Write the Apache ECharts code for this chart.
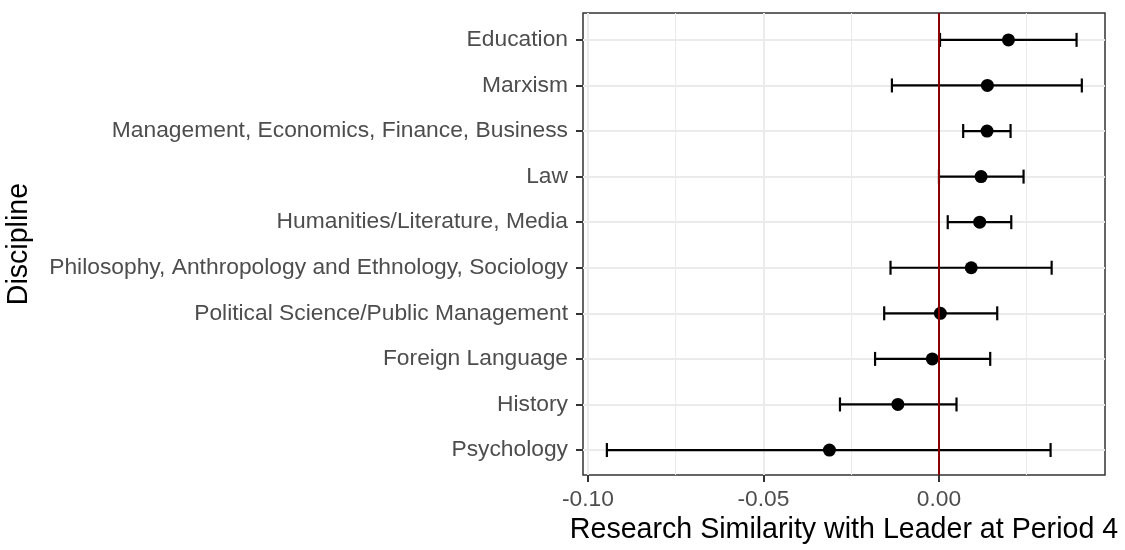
<!DOCTYPE html>
<html>
<head>
<meta charset="utf-8">
<title>Research Similarity with Leader at Period 4</title>
<script src="https://cdn.jsdelivr.net/npm/echarts@6.0.0/dist/echarts.min.js"></script>
<style>
  html, body { margin: 0; padding: 0; background: #ffffff; }
  #chart { width: 1125px; height: 550px; }
</style>
</head>
<body>
<div id="chart"></div>
<script>
// Disciplines, listed top to bottom
const categories = [
  'Education',
  'Marxism',
  'Management, Economics, Finance, Business',
  'Law',
  'Humanities/Literature, Media',
  'Philosophy, Anthropology and Ethnology, Sociology',
  'Political Science/Public Management',
  'Foreign Language',
  'History',
  'Psychology'
];

// Point estimates and confidence bounds
const estimate = [0.0198, 0.0138, 0.0137, 0.0120, 0.0116, 0.0092, 0.0004, -0.0019, -0.0117, -0.0312];
const lower    = [0.0003, -0.0134, 0.0069, 0.0000, 0.0025, -0.0138, -0.0156, -0.0182, -0.0282, -0.0946];
const upper    = [0.0392, 0.0407, 0.0204, 0.0241, 0.0206, 0.0321, 0.0166, 0.0146, 0.0050, 0.0318];

// Axis ticks
const xMajorTicks = [-0.10, -0.05, 0.00];
const xMinorTicks = [-0.075, -0.025, 0.025];
const xRange = [-0.1014, 0.0473];
const referenceLine = 0;

const rowIndex = categories.map((_, i) => i);

const FONT = '"Liberation Sans", Arial, Helvetica, sans-serif';
const GRID_LINE = '#EBEBEB';

const chart = echarts.init(document.getElementById('chart'), null, { renderer: 'canvas' });

const option = {
  backgroundColor: '#ffffff',
  animation: false,
  grid: {
    left: 583,
    right: 20,
    top: 13,
    bottom: 73,
    show: true,
    backgroundColor: 'transparent',
    borderColor: '#333333',
    borderWidth: 1.5,
    containLabel: false
  },
  xAxis: [
    {
      type: 'value',
      min: xRange[0],
      max: xRange[1],
      position: 'bottom',
      name: 'Research Similarity with Leader at Period 4',
      nameLocation: 'middle',
      nameGap: 39,
      nameTextStyle: { color: '#000000', fontSize: 28.6, fontFamily: FONT },
      axisLine: { show: false, onZero: false },
      axisTick: {
        show: true,
        length: 7,
        customValues: xMajorTicks,
        lineStyle: { color: '#333333', width: 2 }
      },
      axisLabel: {
        show: true,
        customValues: xMajorTicks,
        margin: 13,
        color: '#4D4D4D',
        fontSize: 22.8,
        fontFamily: FONT,
        formatter: v => v.toFixed(2)
      },
      splitLine: { show: true, lineStyle: { color: GRID_LINE, width: 2 } }
    },
    {
      // minor vertical gridlines
      type: 'value',
      min: xRange[0],
      max: xRange[1],
      position: 'top',
      axisLine: { show: false, onZero: false },
      axisTick: { show: false, customValues: xMinorTicks },
      axisLabel: { show: false, customValues: xMinorTicks },
      splitLine: { show: true, lineStyle: { color: GRID_LINE, width: 1 } }
    }
  ],
  yAxis: {
    type: 'value',
    inverse: true,
    min: -0.59,
    max: categories.length - 1 + 0.55,
    name: 'Discipline',
    nameLocation: 'middle',
    nameRotate: 90,
    nameGap: 549,
    nameTextStyle: { color: '#000000', fontSize: 28.6, fontFamily: FONT },
    axisLine: { show: false, onZero: false },
    axisTick: {
      show: true,
      length: 7,
      customValues: rowIndex,
      lineStyle: { color: '#333333', width: 2 }
    },
    axisLabel: {
      show: true,
      customValues: rowIndex,
      margin: 15,
      color: '#4D4D4D',
      fontSize: 22.8,
      fontFamily: FONT,
      formatter: v => categories[Math.round(v)]
    },
    splitLine: { show: true, lineStyle: { color: GRID_LINE, width: 2 } }
  },
  series: [
    {
      // vertical reference line at zero
      type: 'line',
      xAxisIndex: 0,
      data: [],
      z: 1,
      silent: true,
      markLine: {
        silent: true,
        symbol: ['none', 'none'],
        label: { show: false },
        lineStyle: { color: '#8B0000', width: 2, type: 'solid', opacity: 1 },
        emphasis: { disabled: true },
        data: [{ xAxis: referenceLine }]
      }
    },
    {
      // confidence intervals
      type: 'custom',
      xAxisIndex: 0,
      z: 2,
      silent: true,
      data: categories.map((_, i) => [lower[i], upper[i], i]),
      encode: { x: [0, 1], y: 2 },
      renderItem: function (params, api) {
        const lo = api.coord([api.value(0), api.value(2)]);
        const hi = api.coord([api.value(1), api.value(2)]);
        const capHalf = 7;
        const style = { stroke: '#000000', lineWidth: 2.2, fill: null };
        return {
          type: 'group',
          children: [
            { type: 'line', shape: { x1: lo[0], y1: lo[1], x2: hi[0], y2: hi[1] }, style: style },
            { type: 'line', shape: { x1: lo[0], y1: lo[1] - capHalf, x2: lo[0], y2: lo[1] + capHalf }, style: style },
            { type: 'line', shape: { x1: hi[0], y1: hi[1] - capHalf, x2: hi[0], y2: hi[1] + capHalf }, style: style }
          ]
        };
      }
    },
    {
      // point estimates
      type: 'scatter',
      xAxisIndex: 0,
      z: 3,
      symbol: 'circle',
      symbolSize: 13,
      itemStyle: { color: '#000000', opacity: 1 },
      data: categories.map((_, i) => [estimate[i], i])
    }
  ]
};

chart.setOption(option);
</script>
</body>
</html>
